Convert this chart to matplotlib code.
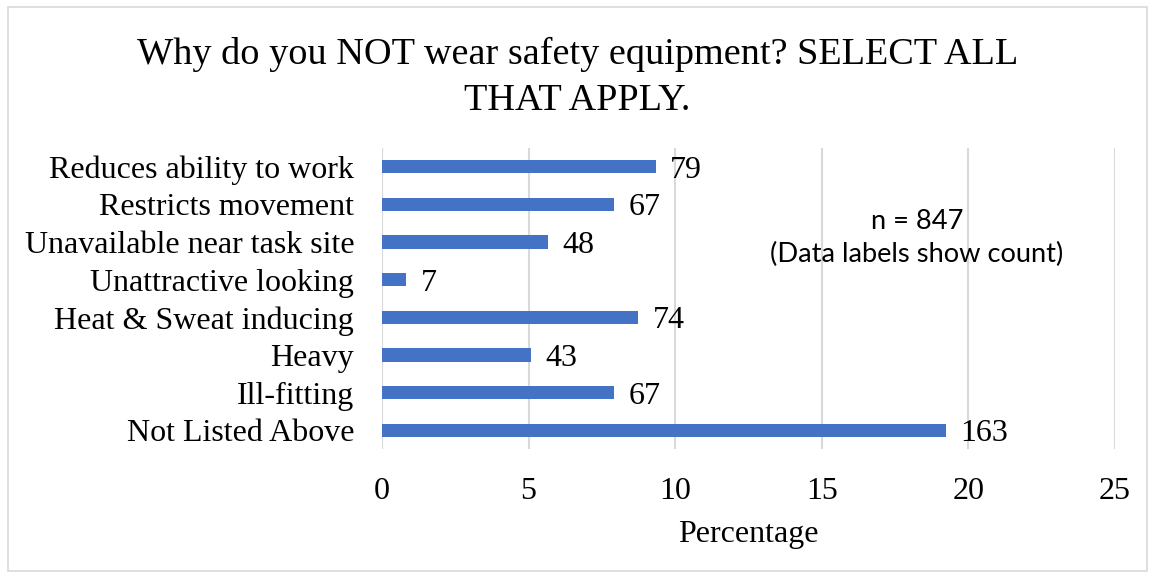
import matplotlib
matplotlib.use("Agg")
import matplotlib.pyplot as plt
from matplotlib.patches import Rectangle

categories = ["Reduces ability to work", "Restricts movement", "Unavailable near task site",
              "Unattractive looking", "Heat & Sweat inducing", "Heavy", "Ill-fitting",
              "Not Listed Above"]
percentages = [9.33, 7.91, 5.67, 0.83, 8.74, 5.08, 7.91, 19.24]
counts = [79, 67, 48, 7, 74, 43, 67, 163]
xticks = [0, 5, 10, 15, 20, 25]

serif = ["Liberation Serif", "DejaVu Serif"]
fig = plt.figure(figsize=(11.55, 5.76), dpi=100)
fig.patches.append(Rectangle((0.007, 0.008), 0.986, 0.98, transform=fig.transFigure,
                             fill=False, edgecolor="#d9d9d9", linewidth=1.2))
ax = fig.add_axes([0.3307, 0.2205, 0.6346, 0.5226])

ypos = list(range(len(categories)))
ax.barh(ypos, percentages, height=0.35, color="#4472c4", zorder=3)
for y, p, c in zip(ypos, percentages, counts):
    ax.text(p + 0.5, y, str(c), va="center_baseline", ha="left", fontsize=23,
            family=serif, zorder=4)

ax.set_xlim(0, 25)
ax.set_ylim(len(categories) - 0.5, -0.5)
ax.set_yticks(ypos)
ax.set_yticklabels(categories, fontsize=23, family=serif)
ax.set_xticks(xticks)
ax.set_xticklabels([str(t) for t in xticks], fontsize=23, family=serif)
ax.tick_params(length=0)
ax.tick_params(axis="y", pad=20)
ax.tick_params(axis="x", pad=20)
ax.grid(axis="x", color="#d9d9d9", linewidth=1.5, zorder=0)
for s in ax.spines.values():
    s.set_visible(False)
ax.axvline(0, color="#d9d9d9", linewidth=1.5, zorder=1)
ax.set_xlabel("Percentage", fontsize=23, family=serif, labelpad=10)

fig.text(0.5, 0.866, "Why do you NOT wear safety equipment? SELECT ALL\nTHAT APPLY.",
         ha="center", va="center", fontsize=27.5, family=serif, linespacing=1.42)
fig.text(0.794, 0.587, "n = 847\n(Data labels show count)", ha="center", va="center",
         fontsize=19.6, family=["Lato", "DejaVu Sans"], linespacing=1.4)

fig.savefig("out.png", dpi=100)
